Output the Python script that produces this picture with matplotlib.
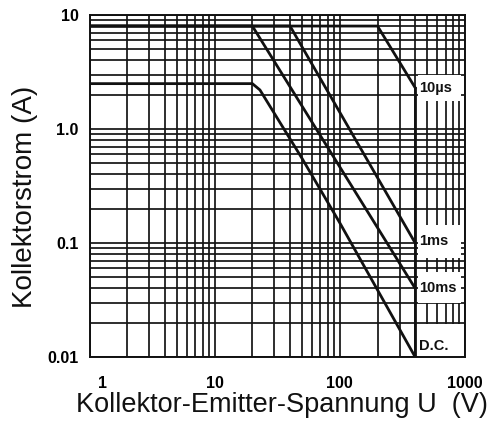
import matplotlib
matplotlib.use('Agg')
import matplotlib.pyplot as plt
from matplotlib.patches import Rectangle
from matplotlib.ticker import LogLocator, NullFormatter, FixedLocator
from matplotlib.transforms import ScaledTranslation

plt.rcParams['font.family'] = ['Liberation Sans', 'DejaVu Sans']

# ---- data ----
us10_v = [1, 200, 400]
us10_i = [8, 8, 2.3]
ms1_v = [1, 40, 400]
ms1_i = [8, 8, 0.1]
ms10_v = [1, 20, 400]
ms10_i = [8, 8, 0.04]
dc_v = [1, 20, 23, 50, 100, 400]
dc_i = [2.5, 2.5, 2.2, 0.55, 0.15, 0.01]
limit_v = [400, 400]
limit_i = [2.3, 0.01]

curve_labels = ['10\u00b5s', '1ms', '10ms', 'D.C.']
label_i = [2.3, 0.104, 0.040, 0.0125]
box_ranges = [(1.75, 2.95), (0.0738, 0.144), (0.0298, 0.0557), (0.01, 0.0195)]

x_ticks = [1, 10, 100, 1000]
x_ticklabels = ['1', '10', '100', '1000']
y_ticks = [0.01, 0.1, 1, 10]
y_ticklabels = ['0.01', '0.1', '1.0', '10']

W, H = 487, 432
fig = plt.figure(figsize=(W / 100, H / 100), dpi=100)
L, R, T, B = 89.5, 465, 15, 357
ax = fig.add_axes([L / W, 1 - B / H, (R - L) / W, (B - T) / H])

ax.set_xscale('log')
ax.set_yscale('log')
ax.set_xlim(1, 1000)
ax.set_ylim(0.01, 10)

ax.xaxis.set_major_locator(FixedLocator(x_ticks))
ax.yaxis.set_major_locator(FixedLocator(y_ticks))
ax.xaxis.set_minor_locator(LogLocator(base=10, subs=range(2, 10), numticks=20))
ax.yaxis.set_minor_locator(LogLocator(base=10, subs=range(2, 10), numticks=20))
ax.xaxis.set_minor_formatter(NullFormatter())
ax.yaxis.set_minor_formatter(NullFormatter())
ax.set_xticklabels(x_ticklabels, fontsize=11.5, fontweight='bold')
ax.set_yticklabels(y_ticklabels, fontsize=11.5, fontweight='bold')
ax.tick_params(which='both', length=0)
ax.tick_params(axis='x', pad=14)
ax.tick_params(axis='y', pad=8)

# shift the "1" label to the right as in the reference
lbl = ax.get_xticklabels()[0]
lbl.set_transform(lbl.get_transform() + ScaledTranslation(13 / 100, 0, fig.dpi_scale_trans))

ax.set_axisbelow(True)
ax.grid(True, which='both', color='#151515', linewidth=1.25)
for s in ax.spines.values():
    s.set_linewidth(1.4)
    s.set_color('#111111')

# white label boxes on the right
for lo, hi in box_ranges:
    ax.add_patch(Rectangle((418, lo), 935 - 418, hi - lo, facecolor='white',
                           edgecolor='none', zorder=1.5))

lw = 2.0
for v, i in [(us10_v, us10_i), (ms1_v, ms1_i), (ms10_v, ms10_i), (dc_v, dc_i), (limit_v, limit_i)]:
    ax.plot(v, i, color='#111111', linewidth=lw, zorder=2, solid_joinstyle='miter')

for txt, yi in zip(curve_labels, label_i):
    ax.text(428, yi, txt, fontsize=10.5, fontweight='bold', ha='left', va='center',
            color='#111111', zorder=3)

fig.text(25 / W, 1 - 197 / H, 'Kollektorstrom (A)', rotation=90, fontsize=20,
         ha='center', va='center', color='#111111')
fig.text(281.5 / W, 20 / H, 'Kollektor-Emitter-Spannung U  (V)', fontsize=19.5,
         ha='center', va='baseline', color='#111111')

fig.savefig('out.png', dpi=100)
